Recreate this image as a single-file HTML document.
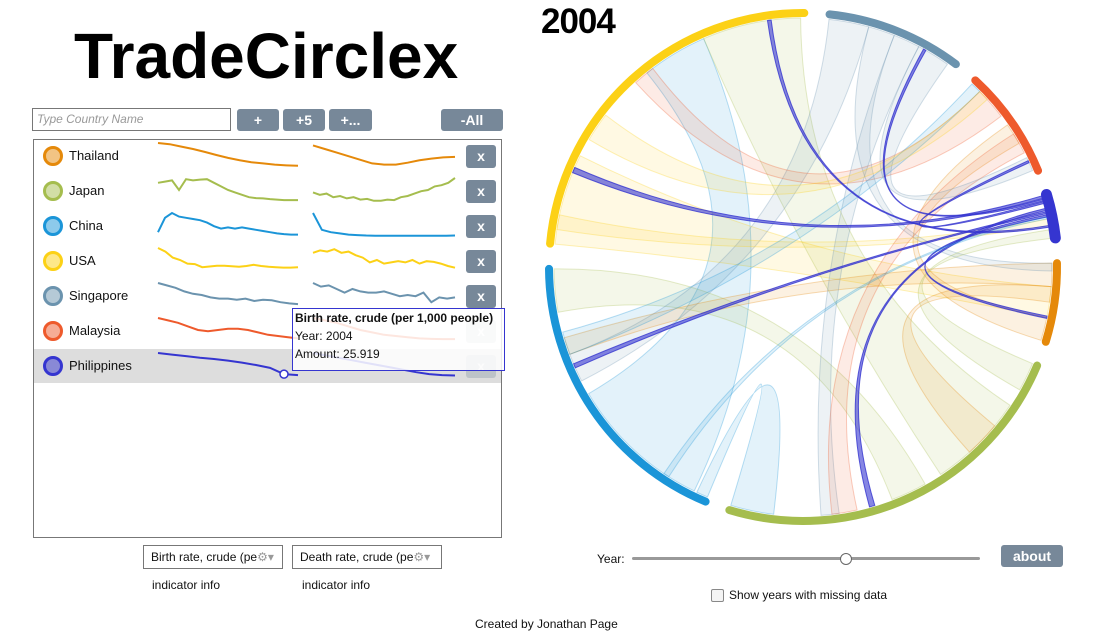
<!DOCTYPE html>
<html><head><meta charset="utf-8">
<style>
body{margin:0;width:1113px;height:637px;background:#fff;position:relative;overflow:hidden;font-family:"Liberation Sans",sans-serif;}
.abs{position:absolute}
.btn{position:absolute;background:#778899;color:#fff;font-weight:bold;font-size:14px;text-align:center;border-radius:3px;height:22px;line-height:22px}
.nar{font-family:"Liberation Sans Narrow","Liberation Sans",sans-serif;font-size:12px;color:#111}
.row-name{position:absolute;left:69px;font-size:13px;color:#111}
.xbtn{position:absolute;left:466px;width:30px;height:23px;line-height:23px;background:#778899;color:#fff;font-weight:bold;text-align:center;border-radius:3px;font-size:14px}
</style></head><body>
<div class="abs" style="left:74px;top:19px;font-size:64px;font-weight:bold;letter-spacing:0px;color:#000">TradeCirclex</div>
<div class="abs" style="left:32px;top:108px;width:193px;height:21px;border:1px solid #777;font-size:12px;font-style:italic;color:#999;line-height:21px;padding-left:4px">Type Country Name</div>
<div class="btn" style="left:237px;top:109px;width:42px">+</div>
<div class="btn" style="left:283px;top:109px;width:42px">+5</div>
<div class="btn" style="left:329px;top:109px;width:43px">+...</div>
<div class="btn" style="left:441px;top:109px;width:62px">-All</div>
<div class="abs" style="left:33px;top:139px;width:467px;height:397px;border:1px solid #777"></div>
<div class="abs" style="left:34px;top:349px;width:467px;height:34px;background:#ddd"></div>
<div id="rows"></div>
<svg id="spark" class="abs" style="left:0;top:0" width="520" height="400"></svg>
<div class="abs" style="left:292px;top:308px;width:209px;height:61px;border:1px solid #3535d0;background:rgba(255,255,255,0.85);font-size:12px;line-height:18px;color:#111;padding-left:2px">
<b>Birth rate, crude (per 1,000 people)</b><br>Year: 2004<br>Amount: 25.919</div>
<div class="abs nar" style="left:143px;top:545px;box-sizing:border-box;width:140px;height:24px;border:1px solid #777;line-height:22px;padding-left:7px">Birth rate, crude (pe<span style="color:#999">⚙▾</span></div>
<div class="abs nar" style="left:292px;top:545px;box-sizing:border-box;width:150px;height:24px;border:1px solid #777;line-height:22px;padding-left:7px">Death rate, crude (pe<span style="color:#999">⚙▾</span></div>
<div class="abs nar" style="left:152px;top:578px">indicator info</div>
<div class="abs nar" style="left:302px;top:578px">indicator info</div>
<div class="abs" style="left:541px;top:2px;font-size:35px;font-weight:bold;letter-spacing:-1px">2004</div>
<svg id="chord" class="abs" style="left:0;top:0" width="1113" height="540"></svg>
<div class="abs nar" style="left:597px;top:552px">Year:</div>
<div class="abs" style="left:632px;top:557px;width:348px;height:3px;background:#999;border-radius:2px"></div>
<div class="abs" style="left:840px;top:553px;width:10px;height:10px;border:1px solid #666;border-radius:50%;background:#fff"></div>
<div class="btn" style="left:1001px;top:545px;width:62px">about</div>
<div class="abs" style="left:711px;top:589px;width:11px;height:11px;border:1px solid #888;border-radius:2px;background:#f4f4f4"></div>
<div class="abs nar" style="left:729px;top:588px">Show years with missing data</div>
<div class="abs nar" style="left:475px;top:617px">Created by Jonathan Page</div>
<script>
const countries=["Thailand","Japan","China","USA","Singapore","Malaysia","Philippines"];
const colors=["#e5890a","#a5bd4e","#1b95d8","#fcd116","#6b93ae","#ee5a2c","#3535d0"];
const birthSeries=[
[10,9.5,8.5,7.5,6.3,5,3.8,2.8,2,1.5,1,0.7,0.5],
[8,8.5,9,5,9.5,9,9.3,9.5,8,6.5,5,4,3,2,1.6,1.5,1.2,1,0.8,0.8,0.8],
[2,8,10,8.5,8,7.5,7,6,4.5,3.5,4,3.5,4,3.5,3,2.5,2,1.5,1.2,1,1],
[10,8.5,6,5,3.5,3.3,2,2.3,2.6,2.6,2.4,2.2,2.5,3,2.5,2.2,2,1.8,1.8,2],
[10,9,8,6.5,5.5,5,4,3.5,3.5,3,3.5,2.5,3,2.8,2,1.5,1.2],
[10,9,8,6.5,5,4.5,5,5.5,5.5,5,4,3,2.5,2,1.5],
[10,9.3,8.7,8,7.5,6.8,6,5,3.8,1.2,0.8]];
const deathSeries=[
[9,7.5,6,4.5,3,1.5,1,1,1.8,2.8,3.5,4,4.2],
[4,3,3.5,2,2.5,1.5,2,1,1.3,0.5,0.5,1,0.8,2,2.5,3.5,4.5,5,6.5,7,8,10],
[10,3,2,1.5,1,0.8,0.6,0.5,0.5,0.5,0.5,0.5,0.5,0.5,0.5,0.5,0.6],
[8,9,8.5,9.5,8,8.5,7,6,4,5,3.5,4,4.5,4,5,3.5,4.5,4.2,3.5,2.5,1.8],
[10,8.5,9,7.5,6,7.5,6.5,6,6,6.5,5.5,4.5,5,4.5,6,2,4,3.5,4],
[10,9,8,6.5,5,4,3,2.5,2,1.5,1.3,1.2,1.2],
[10,9,8,7,6,5,4,3,2,1.2,0.8,0.6]];
const markerIndex=9;
const rows=document.getElementById('rows'), sp=document.getElementById('spark');
const NS="http://www.w3.org/2000/svg";
function sx(i,n,x0,w){return x0+i*w/(n-1);}
function sy(v,c){return c+11-v*2.4;}
function spark(arr,x0,w,c,col,name){
 const p=document.createElementNS(NS,'polyline');
 p.setAttribute('points',arr.map((v,i)=>sx(i,arr.length,x0,w)+','+sy(v,c)).join(' '));
 p.setAttribute('fill','none');p.setAttribute('stroke',col);p.setAttribute('stroke-width','2');
 
 
 sp.appendChild(p);
}
countries.forEach((c,k)=>{
 const cy=156+k*35;
 const d=document.createElement('div');
 d.className='abs';
 d.style.cssText=`left:43px;top:${cy-10}px;width:14px;height:14px;border:3px solid ${colors[k]};border-radius:50%;background:${colors[k]}80`;
 
 
 rows.appendChild(d);
 const t=document.createElement('div');t.className='row-name';t.style.top=(cy-8)+'px';t.textContent=c;
 
 
 rows.appendChild(t);
 const x=document.createElement('div');x.className='xbtn';x.style.top=(cy-11)+'px';x.textContent='x';
 if(k>=5)x.style.opacity='0.3';
 
 
 rows.appendChild(x);
 spark(birthSeries[k],158,140,cy,colors[k],'birth-sparkline');
 spark(deathSeries[k],313,142,cy,colors[k],'death-sparkline');
});
{const a=birthSeries[6],cy=156+6*35;const m=document.createElementNS(NS,'circle');
m.setAttribute('cx',sx(markerIndex,a.length,158,140));m.setAttribute('cy',sy(a[markerIndex],cy));m.setAttribute('r',4);
m.setAttribute('fill','#fff');m.setAttribute('stroke','#3535d0');m.setAttribute('stroke-width','1.5');


sp.appendChild(m);}

const groupNames=["Singapore","Malaysia","Philippines","Thailand","Japan","China","USA"];
const groupColors=["#6b93ae","#ee5a2c","#3535d0","#e5890a","#a5bd4e","#1b95d8","#fcd116"];
const groupSizes=[31,25,10,18,84,67,85];
// [src, srcFrom, srcTo, tgt, tgtFrom, tgtTo, colorGroup]
const chords=[
[5,0.05,0.55,6,0.54,0.72,5],
[6,0.72,0.99,4,0.13,0.4,4],
[5,0.0,0.04,4,0.88,1.0,5],
[5,0.85,1.0,4,0.45,0.55,4],
[6,0.0,0.25,3,0.3,0.7,6],
[0,0.0,0.3,5,0.6,0.7,0],
[1,0.1,0.4,6,0.5,0.56,1],
[6,0.04,0.08,2,0.55,0.7,6],
[3,0.0,0.3,5,0.7,0.76,3],
[3,0.7,1.0,1,0.5,0.7,3],
[0,0.3,0.5,3,0.0,0.1,0],
[0,0.5,0.7,4,0.7,0.75,0],
[1,0.6,0.8,4,0.65,0.72,1],
[4,0.0,0.08,2,0.8,1.0,4],
[0,0.7,0.95,1,0.85,0.98,0],
[5,0.7,0.78,1,0.0,0.1,5],
[6,0.3,0.38,1,0.1,0.2,6],
[3,0.3,0.5,4,0.2,0.3,3],
[2,0.0,0.06,6,0.2,0.215,2],
[2,0.08,0.12,0,0.74,0.76,2],
[2,0.14,0.18,1,0.88,0.9,2],
[2,0.3,0.35,4,0.6,0.615,2],
[2,0.38,0.42,5,0.65,0.665,2],
[2,0.45,0.5,3,0.68,0.71,2],
[5,0.15,0.17,2,0.5,0.54,5],
[6,0.9,0.91,2,0.7,0.74,2]
];
const CX=803,CY=267,R=254,RI=249,PAD=5.7,START=6;
const svg=document.getElementById('chord');
const total=groupSizes.reduce((p,q)=>p+q,0);
const scale=(360-PAD*groupSizes.length)/total;
const starts=[];let a=START;groupSizes.forEach(s=>{starts.push(a);a+=s*scale+PAD;});
function ang(g,f){return starts[g]+f*groupSizes[g]*scale;}
function pt(deg,r){const t=deg*Math.PI/180;return [CX+r*Math.sin(t),CY-r*Math.cos(t)];}
chords.forEach(c=>{
 const s0=pt(ang(c[0],c[1]),RI),s1=pt(ang(c[0],c[2]),RI),t0=pt(ang(c[3],c[4]),RI),t1=pt(ang(c[3],c[5]),RI);
 const d=`M${s0}A${RI},${RI} 0 0 1 ${s1}Q${CX},${CY} ${t0}A${RI},${RI} 0 0 1 ${t1}Q${CX},${CY} ${s0}Z`;
 const p=document.createElementNS(NS,'path');p.setAttribute('d',d);
 const col=groupColors[c[6]];const strong=c[6]===2;
 p.setAttribute('fill',col);p.setAttribute('fill-opacity',strong?0.6:0.12);
 p.setAttribute('stroke',col);p.setAttribute('stroke-opacity',strong?0.8:0.3);
 
 
 svg.appendChild(p);
});
groupSizes.forEach((s,g)=>{
 const a0=pt(starts[g],R),a1=pt(starts[g]+s*scale,R);
 const p=document.createElementNS(NS,'path');
 p.setAttribute('d',`M${a0}A${R},${R} 0 ${s*scale>180?1:0} 1 ${a1}`);
 p.setAttribute('fill','none');p.setAttribute('stroke',groupColors[g]);
 p.setAttribute('stroke-width',g===2?11:8);p.setAttribute('stroke-linecap','round');
 
 
 svg.appendChild(p);
});
</script>
</body></html>
